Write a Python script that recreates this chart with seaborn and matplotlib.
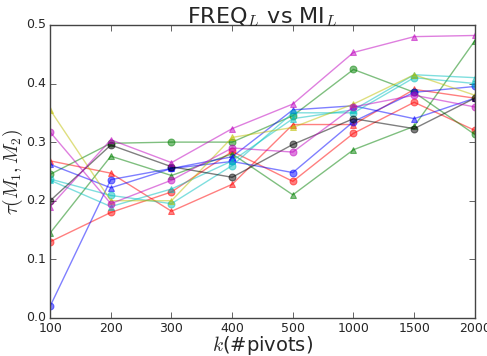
import matplotlib
matplotlib.use("Agg")
import matplotlib.pyplot as plt
import seaborn as sns
import pandas as pd

k_labels = ["100", "200", "300", "400", "500", "1000", "1500", "2000"]

red_tri   = [0.268, 0.247, 0.182, 0.228, 0.330, 0.330, 0.390, 0.375]
red_circ  = [0.130, 0.180, 0.215, 0.284, 0.233, 0.315, 0.368, 0.320]
green_tri = [0.145, 0.276, 0.243, 0.280, 0.210, 0.287, 0.327, 0.473]
green_circ= [0.245, 0.298, 0.300, 0.300, 0.345, 0.424, 0.385, 0.313]
blue_circ = [0.020, 0.236, 0.255, 0.267, 0.248, 0.335, 0.385, 0.395]
blue_tri  = [0.262, 0.222, 0.255, 0.275, 0.355, 0.362, 0.340, 0.375]
cyan_circ = [0.237, 0.209, 0.195, 0.260, 0.350, 0.350, 0.410, 0.400]
cyan_tri  = [0.235, 0.190, 0.220, 0.268, 0.340, 0.355, 0.415, 0.410]
yellow_tri= [0.355, 0.200, 0.200, 0.308, 0.325, 0.365, 0.415, 0.380]
black_circ= [0.200, 0.295, 0.258, 0.240, 0.296, 0.340, 0.323, 0.375]
mag_tri   = [0.190, 0.304, 0.265, 0.323, 0.365, 0.453, 0.480, 0.482]
mag_circ  = [0.317, 0.195, 0.235, 0.290, 0.283, 0.360, 0.380, 0.360]

series = [
    (red_tri, "r", "^"), (red_circ, "r", "o"),
    (green_tri, "g", "^"), (green_circ, "g", "o"),
    (blue_circ, "b", "o"), (blue_tri, "b", "^"),
    (cyan_circ, "c", "o"), (cyan_tri, "c", "^"),
    (yellow_tri, "y", "^"), (black_circ, "k", "o"),
    (mag_tri, "m", "^"), (mag_circ, "m", "o"),
]

plt.style.use("classic")
sns.set_style("ticks", {"xtick.direction": "in", "ytick.direction": "in"})
plt.rcParams['font.family'] = ['DejaVu Sans']

fig = plt.figure(figsize=(4.87, 3.56), dpi=100)
ax = fig.add_axes([0.103, 0.107, 0.872, 0.823])

pos = list(range(len(k_labels)))
for vals, col, mk in series:
    df = pd.DataFrame({"pos": pos, "tau": vals})
    sns.lineplot(data=df, x="pos", y="tau", color=col, marker=mk, markersize=5,
                 linewidth=1, alpha=0.5, markeredgecolor=col, ax=ax)

ax.set_xlim(0, 7)
ax.set_ylim(0, 0.5)
ax.set_xticks(pos)
ax.set_xticklabels(k_labels)
ax.set_yticks([0.0, 0.1, 0.2, 0.3, 0.4, 0.5])
ax.set_yticklabels(["0.0", "0.1", "0.2", "0.3", "0.4", "0.5"])
ax.tick_params(labelsize=9, top=True, right=True, direction="in", pad=3)
ax.set_xlabel(r"$k$(#pivots)", fontsize=14, labelpad=-1)
ax.set_ylabel(r"$\tau(M_1,M_2)$", fontsize=14, labelpad=1)
ax.set_title(r"FREQ$_L$ vs MI$_L$", fontsize=16, pad=1)
for s in ax.spines.values():
    s.set_color("#444444")
    s.set_linewidth(1)

fig.savefig("out.png", dpi=100)
